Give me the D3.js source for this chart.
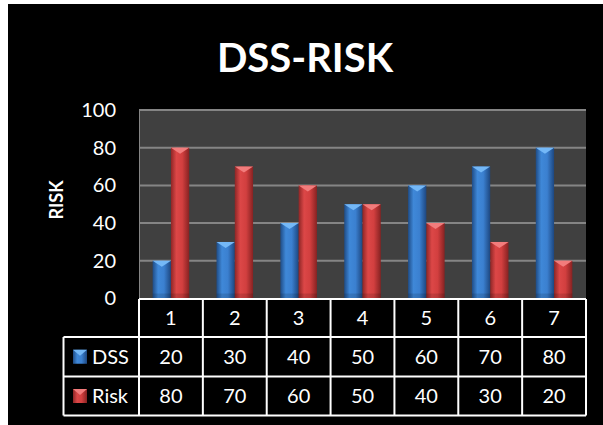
<!DOCTYPE html>
<html>
<head>
<meta charset="utf-8">
<script src="https://cdn.jsdelivr.net/npm/d3@7/dist/d3.min.js"></script>
<style>
  html, body { margin: 0; padding: 0; background: #ffffff; }
  svg { display: block; }
  text { font-family: Lato, "Open Sans", sans-serif; fill: #ffffff; }
</style>
</head>
<body>
<svg id="chart" width="603" height="425"></svg>
<script>
// Chart data
const categories = ["1", "2", "3", "4", "5", "6", "7"];
const seriesNames = ["DSS", "Risk"];
const dssValues = [20, 30, 40, 50, 60, 70, 80];
const riskValues = [80, 70, 60, 50, 40, 30, 20];
const yTicks = [0, 20, 40, 60, 80, 100];
const titleText = "DSS-RISK";
const yTitle = "RISK";

const svg = d3.select("#chart");

// gradients for the bar bodies
const defs = svg.append("defs");
const palettes = {
  DSS:  { stops: ["#1f4c86", "#3f88d8", "#3b80d0", "#1d4780"], cap: "#74b8f7" },
  Risk: { stops: ["#8e2626", "#dc4747", "#d23f3f", "#862222"], cap: "#f27c7c" }
};
seriesNames.forEach(name => {
  const g = defs.append("linearGradient").attr("id", "grad-" + name)
    .attr("x1", "0%").attr("x2", "100%").attr("y1", "0%").attr("y2", "0%");
  [0, 0.3, 0.62, 1].forEach((o, i) =>
    g.append("stop").attr("offset", o).attr("stop-color", palettes[name].stops[i]));
});

// background
svg.append("rect").attr("x", 8).attr("y", 4).attr("width", 595).attr("height", 421).attr("fill", "#000000");

// title
svg.append("text").attr("x", 305).attr("y", 72).attr("text-anchor", "middle")
  .style("font-size", "40px").style("font-weight", "bold").text(titleText);

// scales
const plotLeft = 139, plotRight = 586, plotTop = 110, plotBottom = 298.5;
const x = d3.scaleBand().domain(categories).range([plotLeft, plotRight]);
const xs = d3.scaleBand().domain(seriesNames).range([0, x.bandwidth()]).paddingInner(0).paddingOuter(0.746);
const y = d3.scaleLinear().domain([0, 100]).range([plotBottom, plotTop]);

// plot area
svg.append("rect").attr("x", plotLeft).attr("y", plotTop)
  .attr("width", plotRight - plotLeft).attr("height", plotBottom - plotTop).attr("fill", "#404040");

// gridlines
svg.append("g").selectAll("line").data(yTicks.filter(t => t > 0)).join("line")
  .attr("x1", plotLeft).attr("x2", plotRight)
  .attr("y1", d => y(d)).attr("y2", d => y(d))
  .attr("stroke", "#858585").attr("stroke-width", 2);
svg.append("line").attr("x1", plotLeft + 0.5).attr("x2", plotLeft + 0.5)
  .attr("y1", plotTop).attr("y2", plotBottom).attr("stroke", "#858585").attr("stroke-width", 1);

// y axis labels
const yAxis = d3.axisLeft(y).tickValues(yTicks).tickSize(0).tickPadding(23);
const yg = svg.append("g").attr("transform", `translate(${plotLeft},0)`).call(yAxis);
yg.select(".domain").remove();
yg.selectAll("text").style("font-size", "20px").attr("fill", "#ffffff")
  .style("font-family", "Lato, 'Open Sans', sans-serif");

// y axis title
svg.append("text").attr("transform", "translate(63,200) rotate(-90)")
  .attr("text-anchor", "middle").style("font-size", "18px").style("font-weight", "bold").text(yTitle);

// bars
const rows = categories.map((c, i) => ({ cat: c, DSS: dssValues[i], Risk: riskValues[i] }));
const capH = 6;
function drawBar(g, bx, bw, v, name) {
  const top = y(v);
  g.append("rect").attr("x", bx).attr("y", top).attr("width", bw).attr("height", plotBottom - top)
    .attr("fill", `url(#grad-${name})`);
  g.append("rect").attr("x", bx).attr("y", plotBottom - 5).attr("width", bw).attr("height", 5)
    .attr("fill", "#000").attr("opacity", 0.12);
  g.append("path")
    .attr("d", `M${bx},${top}L${bx + bw},${top}L${bx + bw / 2},${top + capH}Z`)
    .attr("fill", palettes[name].cap);
}
const barsG = svg.append("g");
rows.forEach(r => {
  seriesNames.forEach(name => {
    drawBar(barsG, x(r.cat) + xs(name), xs.bandwidth(), r[name], name);
  });
});

// data table
const tableLeft = 63.5, rowH = [299, 337, 376.5, 415.5];
const tg = svg.append("g");
const lineStyle = sel => sel.attr("stroke", "#ffffff").attr("stroke-width", 2);
// horizontal lines
lineStyle(tg.append("line").attr("x1", plotLeft).attr("x2", plotRight).attr("y1", rowH[0]).attr("y2", rowH[0]));
[1, 2, 3].forEach(i =>
  lineStyle(tg.append("line").attr("x1", tableLeft).attr("x2", plotRight).attr("y1", rowH[i]).attr("y2", rowH[i])));
// vertical lines
lineStyle(tg.append("line").attr("x1", tableLeft).attr("x2", tableLeft).attr("y1", rowH[1]).attr("y2", rowH[3]));
categories.forEach(c =>
  lineStyle(tg.append("line").attr("x1", x(c)).attr("x2", x(c)).attr("y1", rowH[0]).attr("y2", rowH[3])));
lineStyle(tg.append("line").attr("x1", plotRight).attr("x2", plotRight).attr("y1", rowH[0]).attr("y2", rowH[3]));

const midY = i => (rowH[i] + rowH[i + 1]) / 2 + 7;
// category header
tg.selectAll("text.cat").data(categories).join("text").attr("class", "cat")
  .attr("x", d => x(d) + x.bandwidth() / 2).attr("y", midY(0))
  .attr("text-anchor", "middle").style("font-size", "20px").text(d => d);
// series rows
const seriesValues = { DSS: dssValues, Risk: riskValues };
seriesNames.forEach((name, si) => {
  const ri = si + 1;
  tg.selectAll(`text.val-${name}`).data(seriesValues[name]).join("text").attr("class", `val-${name}`)
    .attr("x", (d, i) => x(categories[i]) + x.bandwidth() / 2).attr("y", midY(ri))
    .attr("text-anchor", "middle").style("font-size", "20px").text(d => d);
  // legend key
  const ky = (rowH[ri] + rowH[ri + 1]) / 2 - 7;
  tg.append("rect").attr("x", 73).attr("y", ky).attr("width", 14).attr("height", 14)
    .attr("fill", `url(#grad-${name})`);
  tg.append("path").attr("d", `M73,${ky}L87,${ky}L80,${ky + 6}Z`).attr("fill", palettes[name].cap);
  tg.append("text").attr("x", 92).attr("y", midY(ri)).style("font-size", "20px").text(name);
});
</script>
</body>
</html>
